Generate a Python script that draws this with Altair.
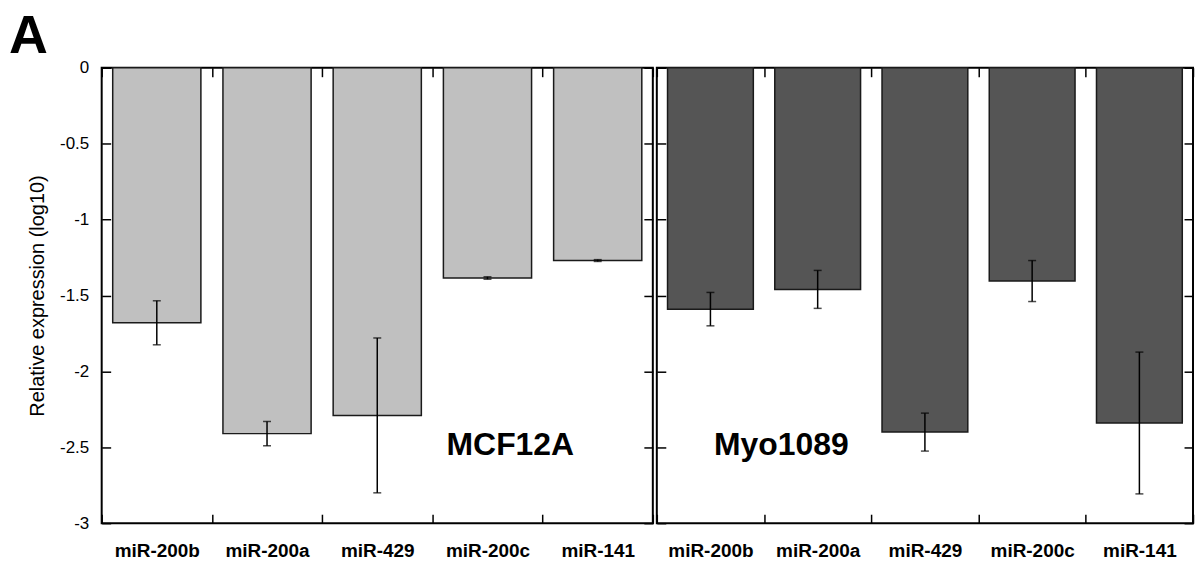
import altair as alt
import pandas as pd

genes = ["miR-200b", "miR-200a", "miR-429", "miR-200c", "miR-141"]
mcf_mean = [-1.68, -2.41, -2.29, -1.385, -1.27]
mcf_err = [0.145, 0.08, 0.51, 0.008, 0.006]
myo_mean = [-1.59, -1.46, -2.40, -1.405, -2.34]
myo_err = [0.11, 0.125, 0.125, 0.135, 0.467]
y_ticks = [0, -0.5, -1, -1.5, -2, -2.5, -3]
panel_labels = ["MCF12A", "Myo1089"]
bar_colors = ["#c0c0c0", "#555555"]

FONT = "Liberation Sans"
H = 457


def panel(means, errs, color, label, label_x, first, width):
    df = pd.DataFrame({
        "gene": genes,
        "mean": means,
        "lo": [m - e for m, e in zip(means, errs)],
        "hi": [m + e for m, e in zip(means, errs)],
    })
    xscale = alt.Scale(domain=genes, paddingInner=0, paddingOuter=0)
    yscale = alt.Scale(domain=[-3, 0], nice=False)
    base = alt.Chart(df)

    bottom_axis = alt.Axis(orient="bottom", offset=-9, domain=False, tickBand="extent",
                           tickSize=9, labelAngle=0, labelFontSize=19, labelFontWeight="bold",
                           labelPadding=18)
    if first:
        left_axis = alt.Axis(orient="left", values=y_ticks, offset=-9, domain=False, tickSize=9,
                             labelFontSize=17, labelPadding=13,
                             labelExpr="toString(datum.value)",
                             title="Relative expression (log10)", titleFontSize=20,
                             titleFontWeight="normal", titlePadding=12)
    else:
        left_axis = alt.Axis(orient="left", values=y_ticks, offset=-9, domain=False, tickSize=9,
                             labels=False, title=None)

    bars = base.mark_bar(color=color, stroke="#1a1a1a", strokeWidth=1.5,
                         width=alt.RelativeBandSize(0.8)).encode(
        x=alt.X("gene:N", sort=genes, scale=xscale, title=None, axis=bottom_axis),
        y=alt.Y("mean:Q", scale=yscale, axis=left_axis),
    )
    err = base.mark_rule(color="black", strokeWidth=1.5).encode(
        x=alt.X("gene:N", sort=genes, scale=xscale, axis=None),
        y=alt.Y("lo:Q", scale=yscale, axis=None),
        y2="hi:Q",
    )
    cap_lo = base.mark_tick(color="black", size=8, thickness=1.5).encode(
        x=alt.X("gene:N", sort=genes, scale=xscale, axis=None),
        y=alt.Y("lo:Q", scale=yscale, axis=None),
    )
    cap_hi = base.mark_tick(color="black", size=8, thickness=1.5).encode(
        x=alt.X("gene:N", sort=genes, scale=xscale, axis=None),
        y=alt.Y("hi:Q", scale=yscale, axis=None),
    )
    axes2 = base.mark_bar(opacity=0, width=alt.RelativeBandSize(0.8)).encode(
        x=alt.X("gene:N", sort=genes, scale=xscale, title=None,
                axis=alt.Axis(orient="top", labels=False, offset=-9, domain=False,
                              tickBand="extent", tickSize=9)),
        y=alt.Y("mean:Q", scale=yscale, title=None,
                axis=alt.Axis(orient="right", values=y_ticks, labels=False, offset=-9,
                              domain=False, tickSize=9)),
    )
    txt = alt.Chart(pd.DataFrame({"t": [label]})).mark_text(
        font=FONT, fontSize=32, fontWeight="bold", color="black"
    ).encode(text="t:N", x=alt.value(label_x), y=alt.value(379))
    letter = alt.Chart(pd.DataFrame({"t": ["A"]})).mark_text(
        font=FONT, fontSize=54, fontWeight="bold", color="black", align="left",
        baseline="alphabetic", opacity=1 if first else 0
    ).encode(text="t:N", x=alt.value(-93 if first else 0), y=alt.value(-15))

    return alt.layer(bars, err, cap_lo, cap_hi, axes2, txt, letter).resolve_axis(
        x="independent", y="independent"
    ).properties(width=width, height=H)


left = panel(mcf_mean, mcf_err, bar_colors[0], panel_labels[0], 410, True, 553)
right = panel(myo_mean, myo_err, bar_colors[1], panel_labels[1], 125, False, 538)

chart = alt.hconcat(left, right, spacing=0).properties(
    padding={"left": 0, "top": 0, "right": 0, "bottom": 0}
).configure_view(
    stroke="black", strokeWidth=2
).configure_axis(
    tickColor="black", tickWidth=1.5, labelColor="black", titleColor="black",
    labelFont=FONT, titleFont=FONT, grid=False
)

chart.save("out.html", embed_options={"renderer": "svg", "actions": False})
